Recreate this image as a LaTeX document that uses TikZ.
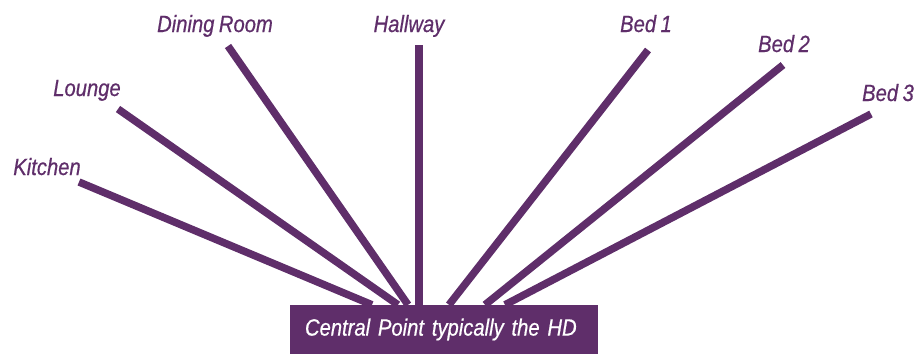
\documentclass[tikz,border=0pt]{standalone}
\usepackage{fontspec}
\newfontfamily\roomfont{Liberation Sans}[FakeStretch=0.86,FakeBold=0.6,WordSpace=0.8]
\definecolor{hdpurple}{HTML}{5F2E6A}
\tikzset{
  room/.style={anchor=base,text=hdpurple,font=\roomfont\itshape\fontsize{23.5}{26}\selectfont,inner sep=0pt},
  wire/.style={draw=hdpurple,line width=7.5pt},
  hdbox/.style={fill=hdpurple,text=white,font=\roomfont\itshape\fontsize{23.5}{26}\selectfont,
    minimum width=308pt,minimum height=49pt,text width=278pt,inner xsep=15pt,align=left}
}
\begin{document}
\begin{tikzpicture}[x=1pt,y=-1pt]
    \useasboundingbox (0,0) rectangle (922,354);
    \node[hdbox] (hd) at (444,329.5) {Central Point typically the HD};
    % room labels
    \node[room] (kitchen) at (47,175) {Kitchen};
    \node[room] (lounge) at (87,96) {Lounge};
    \node[room] (dining) at (215,32) {Dining Room};
    \node[room] (hallway) at (409,32) {Hallway};
    \node[room] (bed1) at (646,32) {Bed 1};
    \node[room] (bed2) at (784,52) {Bed 2};
    \node[room] (bed3) at (888,101) {Bed 3};
    % free ends of the wires
    \coordinate (kitchen end) at (79,182);
    \coordinate (lounge end) at (118,109);
    \coordinate (dining end) at (228,46);
    \coordinate (hallway end) at (419,45);
    \coordinate (bed1 end) at (648,50);
    \coordinate (bed2 end) at (783,65);
    \coordinate (bed3 end) at (871,114);
    % wires into the box
    \draw[wire] (kitchen end) -- (hd.north -| 372,0);
    \draw[wire] (lounge end) -- (hd.north -| 398,0);
    \draw[wire] (dining end) -- (hd.north -| 408,0);
    \draw[wire] (hallway end) -- (hd.north -| 419,0);
    \draw[wire] (bed1 end) -- (hd.north -| 449,0);
    \draw[wire] (bed2 end) -- (hd.north -| 485,0);
    \draw[wire] (bed3 end) -- (hd.north -| 505,0);
\end{tikzpicture}
\end{document}
